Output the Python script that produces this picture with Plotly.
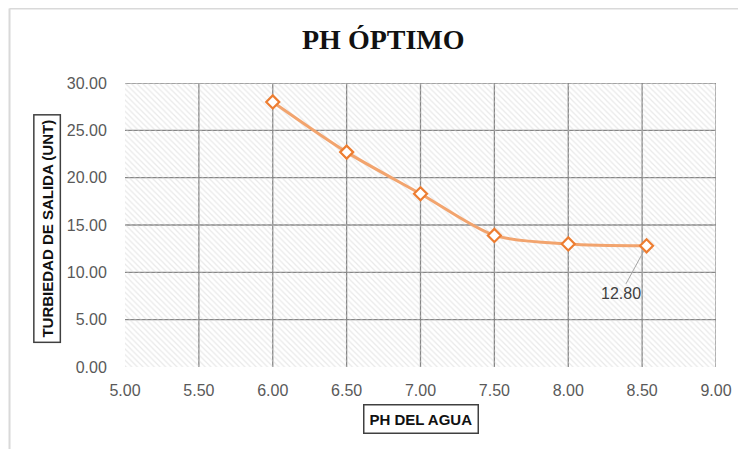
import plotly.graph_objects as go

# Data
ph = [6.00, 6.50, 7.00, 7.50, 8.00, 8.53]
turbiedad = [28.0, 22.7, 18.3, 13.9, 13.0, 12.8]
x_ticks = [5.0, 5.5, 6.0, 6.5, 7.0, 7.5, 8.0, 8.5, 9.0]
y_ticks = [0, 5, 10, 15, 20, 25, 30]
x_grid = [5.5, 6.0, 6.5, 7.0, 7.5, 8.0, 8.5, 9.0]
y_grid = [5, 10, 15, 20, 25, 30]
x_range = [5.0, 9.0]
y_range = [0, 30]

ORANGE = "#ED7D31"
LINE_ORANGE = "#F2A46E"
GRID = "#858585"
TICKC = "#595959"

fig = go.Figure()

# hatched plot background
fig.add_trace(go.Bar(
    x=[(x_range[0] + x_range[1]) / 2], y=[y_range[1] - y_range[0]], base=[y_range[0]],
    width=[x_range[1] - x_range[0]],
    marker=dict(color="rgba(0,0,0,0)", line=dict(width=0),
                pattern=dict(shape="\\", size=4, solidity=0.3,
                             fgcolor="#D3D3D3", bgcolor="rgba(0,0,0,0)")),
    hoverinfo="skip", showlegend=False,
))

fig.add_trace(go.Scatter(
    x=ph, y=turbiedad, mode="lines+markers",
    line=dict(color=LINE_ORANGE, width=3, shape="spline", smoothing=0.8),
    marker=dict(symbol="diamond", size=10, color="white",
                line=dict(color=ORANGE, width=2.2)),
    showlegend=False,
))

shapes = []
for gx in x_grid:
    shapes.append(dict(type="line", xref="x", yref="y", x0=gx, x1=gx,
                       y0=y_range[0], y1=y_range[1], layer="below",
                       line=dict(color=GRID, width=1.3)))
for gy in y_grid:
    shapes.append(dict(type="line", xref="x", yref="y", x0=x_range[0], x1=x_range[1],
                       y0=gy, y1=gy, layer="below",
                       line=dict(color=GRID, width=1.3)))
# chart border (left and top)
shapes.append(dict(type="line", xref="paper", yref="paper", x0=-0.1954, x1=-0.1954,
                   y0=-0.5, y1=1.262, line=dict(color="#D9D9D9", width=2)))
shapes.append(dict(type="line", xref="paper", yref="paper", x0=-0.1954, x1=1.2,
                   y0=1.262, y1=1.262, line=dict(color="#D9D9D9", width=2)))

annotations = [
    dict(text="<b>PH ÓPTIMO</b>", xref="paper", yref="paper", x=0.437, y=1.153,
         xanchor="center", yanchor="middle",
         showarrow=False, font=dict(family="Liberation Serif", size=28, color="#111111")),
    dict(text="<b>TURBIEDAD DE SALIDA (UNT)</b>", xref="paper", yref="paper",
         x=-0.131, y=0.4877, textangle=-90, showarrow=False,
         xanchor="center", yanchor="middle",
         font=dict(family="Liberation Sans", size=15, color="#111111"),
         bordercolor="#404040", borderwidth=1.5, borderpad=4),
    dict(text="<b>PH DEL AGUA</b>", xref="paper", yref="paper",
         x=0.5008, y=-0.183, showarrow=False,
         xanchor="center", yanchor="middle",
         font=dict(family="Liberation Sans", size=15, color="#111111"),
         bordercolor="#404040", borderwidth=1.5, borderpad=5),
    dict(text=f"{turbiedad[-1]:.2f}", x=ph[-1], y=turbiedad[-1], xref="x", yref="y",
         showarrow=True, arrowhead=0, arrowwidth=1, arrowcolor="#A6A6A6",
         ax=-26, ay=48, standoff=6,
         font=dict(family="Liberation Sans", size=16, color="#404040")),
]

# page body has an 8px margin: shrink the figure and margins to compensate
fig.update_layout(
    width=738, height=441,
    margin=dict(l=117, r=30, t=75, b=82),
    paper_bgcolor="white", plot_bgcolor="white",
    shapes=shapes, annotations=annotations,
    xaxis=dict(range=x_range, tickvals=x_ticks, ticktext=[f"{v:.2f}" for v in x_ticks],
               showgrid=False, zeroline=False, showline=False,
               ticks="outside", ticklen=9, tickcolor="rgba(0,0,0,0)",
               tickfont=dict(family="Liberation Sans", size=16, color=TICKC)),
    yaxis=dict(range=y_range, tickvals=y_ticks, ticktext=[f"{v:.2f}" for v in y_ticks],
               showgrid=False, zeroline=False, showline=False,
               ticks="outside", ticklen=14, tickcolor="rgba(0,0,0,0)",
               tickfont=dict(family="Liberation Sans", size=16, color=TICKC)),
    bargap=0,
)

fig.write_html("out.html")
